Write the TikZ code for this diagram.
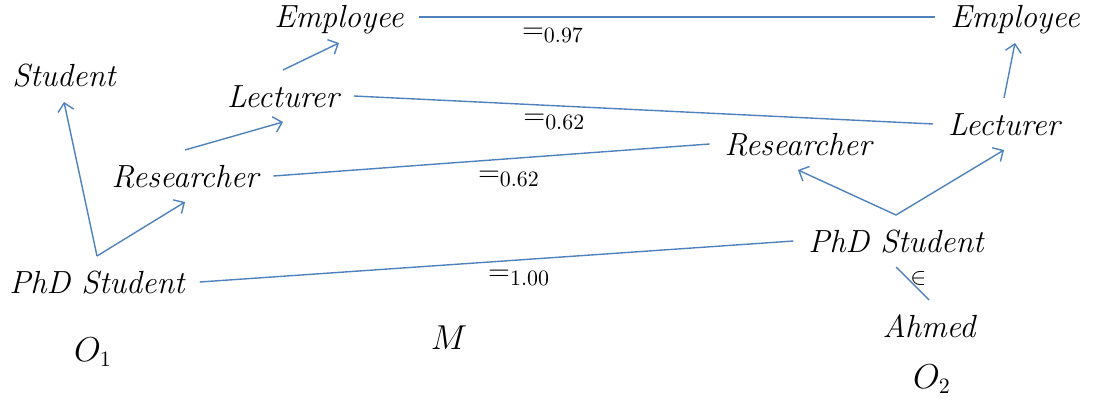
\documentclass[tikz,border=0pt]{standalone}
\usepackage{amsmath,amssymb}
\usepackage{xcolor}
\usepackage{tikz}
\usetikzlibrary{arrows.meta,positioning,calc}
\definecolor{linkblue}{RGB}{79,129,189}

\begin{document}
\begin{tikzpicture}[x=.5pt,y=-.5pt,
  concept/.style={font=\fontsize{16}{19}\selectfont\itshape,text height=11pt,text depth=0pt,
    inner xsep=3.5pt,inner ysep=3.5pt,outer sep=4pt},
  tag/.style={font=\fontsize{16}{19}\selectfont,inner sep=1pt},
  weight/.style={font=\fontsize{15}{18}\selectfont,inner sep=0pt},
  isa/.style={-{Straight Barb[length=4pt,width=8pt]},draw=linkblue,line width=.7pt},
  match/.style={draw=linkblue,line width=.7pt}]

\path[use as bounding box] (0,0) rectangle (1095,401);

% first ontology
\node[concept] (studentL) at (64,76) {Student};
\node[concept] (employeeL) at (339,17) {Employee};
\node[concept] (lecturerL) at (283,96) {Lecturer};
\node[concept] (researcherL) at (185,176) {Researcher};
\node[concept] (phdL) at (97,282) {PhD Student};
\node[tag] (onto1) at (93,352) {$O_1$};
\draw[isa] (phdL.north)--(studentL.south);
\draw[isa] (phdL.north)--(researcherL.south);
\draw[isa] (researcherL.north)--(lecturerL.south);
\draw[isa] (lecturerL.north)--(employeeL.south);

% second ontology
\node[concept] (employeeR) at (1015,17) {Employee};
\node[concept] (lecturerR) at (1004,124) {Lecturer};
\node[concept] (researcherR) at (798,144) {Researcher};
\node[concept] (phdR) at (896,241) {PhD Student};
\node[concept] (ahmed) at (929,326) {Ahmed};
\node[tag] (onto2) at (932,379) {$O_2$};
\draw[isa] (phdR.north)--(researcherR.south);
\draw[isa] (phdR.north)--(lecturerR.south);
\draw[isa] (lecturerR.north)--(employeeR.south);
\draw[match] (phdR.south)--(ahmed.north)
  node[tag,pos=.35,right,font=\large] {$\in$};

% alignment
\node[tag] (align) at (449,338) {$M$};
\draw[match] (employeeL.east)--(employeeR.west)
  node[weight,pos=.26,yshift=-9pt] {$=_{0.97}$};
\draw[match] (lecturerL.east)--(lecturerR.west)
  node[weight,pos=.346,yshift=-8pt] {$=_{0.62}$};
\draw[match] (researcherL.east)--(researcherR.west)
  node[weight,pos=.54,yshift=-10pt] {$=_{0.62}$};
\draw[match] (phdL.east)--(phdR.west)
  node[weight,pos=.538,yshift=-9pt] {$=_{1.00}$};

\end{tikzpicture}
\end{document}
